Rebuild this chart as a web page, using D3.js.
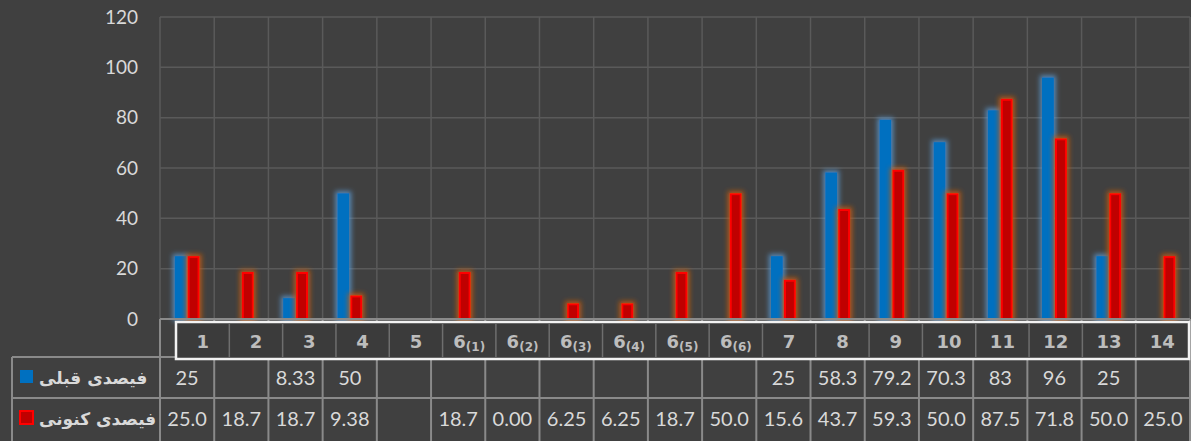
<!DOCTYPE html>
<html>
<head>
<meta charset="utf-8">
<script src="https://cdn.jsdelivr.net/npm/d3@7"></script>
<style>
  html, body { margin: 0; padding: 0; background: #404040; }
  svg { display: block; }
</style>
</head>
<body>
<div id="chart"></div>
<script>
var W = 1191, H = 441;

// categories, as labelled under the bars
var categories = ["1","2","3","4","5","6(1)","6(2)","6(3)","6(4)","6(5)","6(6)","7","8","9","10","11","12","13","14"];
var seriesNames = ["فیصدی قبلی", "فیصدی کنونی"];
// table texts as shown (empty = no value)
var beforeText = ["25","","8.33","50","","","","","","","","25","58.3","79.2","70.3","83","96","25",""];
var nowText = ["25.0","18.7","18.7","9.38","","18.7","0.00","6.25","6.25","18.7","50.0","15.6","43.7","59.3","50.0","87.5","71.8","50.0","25.0"];
var yTicks = [0, 20, 40, 60, 80, 100, 120];

var svg = d3.select("#chart").append("svg")
    .attr("width", W)
    .attr("height", H);

var defs = svg.append("defs");
function glow(id, color, op) {
  var f = defs.append("filter").attr("id", id)
      .attr("x", "-80%").attr("y", "-20%").attr("width", "260%").attr("height", "140%");
  f.append("feMorphology").attr("in", "SourceAlpha").attr("operator", "dilate").attr("radius", 2).attr("result", "d");
  f.append("feGaussianBlur").attr("in", "d").attr("stdDeviation", 2.5).attr("result", "b");
  f.append("feFlood").attr("flood-color", color).attr("flood-opacity", op);
  f.append("feComposite").attr("in2", "b").attr("operator", "in").attr("result", "g");
  var m = f.append("feMerge");
  m.append("feMergeNode").attr("in", "g");
  m.append("feMergeNode").attr("in", "SourceGraphic");
}
glow("glowBlue", "#5b9bd5", 0.8);
glow("glowRed", "#c55a11", 0.85);

var x = d3.scaleBand().domain(categories).range([160, 1190]);
var y = d3.scaleLinear().domain([0, 120]).range([319, 17]);
var xs = d3.scaleBand().domain([0, 1]).range([x.bandwidth() * 0.27, x.bandwidth() * 0.73]).paddingInner(0.08);

var grid = "#5a5a5a", tline = "#8a8a8a", txt = "#d9d9d9";
var xEdge = function(d, i) { return i < categories.length ? x(d) : 1190; };

// horizontal gridlines
svg.append("g").selectAll("line").data(yTicks.slice(1)).enter().append("line")
    .attr("x1", 160).attr("x2", 1190)
    .attr("y1", function(d) { return y(d); }).attr("y2", function(d) { return y(d); })
    .attr("stroke", grid).attr("stroke-width", 1.5);

// vertical gridlines
svg.append("g").selectAll("line").data(categories.concat(["end"])).enter().append("line")
    .attr("x1", xEdge).attr("x2", xEdge)
    .attr("y1", 17).attr("y2", 319)
    .attr("stroke", grid).attr("stroke-width", 1.5);

// y axis labels
var yAxis = d3.axisLeft(y).tickValues(yTicks).tickSize(0).tickPadding(0);
var ya = svg.append("g").attr("transform", "translate(138,0)").call(yAxis);
ya.select(".domain").remove();
ya.selectAll("text").attr("fill", txt).style("font-family", "Lato, 'Open Sans', sans-serif").style("font-size", "19px");

// bars
function toBars(texts) {
  return texts.map(function(s, i) { return { cat: categories[i], v: s === "" ? 0 : +s }; })
    .filter(function(d) { return d.v > 0; });
}

svg.append("g").attr("filter", "url(#glowBlue)")
  .selectAll("rect").data(toBars(beforeText)).enter().append("rect")
    .attr("x", function(d) { return x(d.cat) + xs(0); })
    .attr("width", xs.bandwidth())
    .attr("y", function(d) { return y(d.v); })
    .attr("height", function(d) { return y(0) - y(d.v); })
    .attr("fill", "#0070c0");

svg.append("g").attr("filter", "url(#glowRed)")
  .selectAll("rect").data(toBars(nowText)).enter().append("rect")
    .attr("x", function(d) { return x(d.cat) + xs(1) + 1; })
    .attr("width", xs.bandwidth() - 2)
    .attr("y", function(d) { return y(d.v) + 1; })
    .attr("height", function(d) { return y(0) - y(d.v) - 1; })
    .attr("fill", "#c00000").attr("stroke", "#ff0000").attr("stroke-width", 2);

// table lines
var t = svg.append("g").attr("stroke", tline).attr("stroke-width", 2);
t.append("line").attr("x1", 160).attr("x2", 1190).attr("y1", 319).attr("y2", 319);
t.append("line").attr("x1", 12).attr("x2", 1190).attr("y1", 357).attr("y2", 357);
t.append("line").attr("x1", 12).attr("x2", 1190).attr("y1", 398).attr("y2", 398);
t.append("line").attr("x1", 12).attr("x2", 12).attr("y1", 357).attr("y2", 441);
t.selectAll("line.v").data(categories.concat(["end"])).enter().append("line")
    .attr("x1", xEdge).attr("x2", xEdge)
    .attr("y1", 319).attr("y2", 441);

// header label strip
var hx = d3.scaleBand().domain(categories).range([176, 1189]);
var hdr = svg.append("g");
hdr.append("rect").attr("x", 176).attr("y", 322).attr("width", 1013).attr("height", 37)
    .attr("fill", "#3b3b3b").attr("stroke", "#f2f2f2").attr("stroke-width", 2.5);
hdr.selectAll("line").data(categories.slice(1)).enter().append("line")
    .attr("x1", function(d) { return hx(d); }).attr("x2", function(d) { return hx(d); })
    .attr("y1", 324).attr("y2", 357)
    .attr("stroke", "#6e6e6e").attr("stroke-width", 1.5);
var ht = hdr.selectAll("text").data(categories).enter().append("text")
    .attr("x", function(d) { return hx(d) + hx.bandwidth() / 2; })
    .attr("y", 348)
    .attr("text-anchor", "middle")
    .attr("fill", "#bdbdbd")
    .style("font-family", "'DejaVu Sans', sans-serif")
    .style("font-size", "18px")
    .style("font-weight", "bold");
ht.each(function(d) {
  var m = d.match(/^(\d+)(\(\d\))?$/);
  var el = d3.select(this);
  el.append("tspan").text(m[1]);
  if (m[2]) el.append("tspan").attr("dy", 3).style("font-size", "12px").text(m[2]);
});

// legend keys + series names + table values
var rows = [
  { name: seriesNames[0], texts: beforeText, yc: 378, fill: "#0070c0", stroke: "none" },
  { name: seriesNames[1], texts: nowText, yc: 419, fill: "#c00000", stroke: "#ff0000" }
];
rows.forEach(function(r) {
  svg.append("rect").attr("x", 20).attr("y", r.yc - 8).attr("width", 13).attr("height", 13)
      .attr("fill", r.fill).attr("stroke", r.stroke).attr("stroke-width", 2);
  svg.append("text").attr("x", 39).attr("y", r.yc + 6)
      .attr("fill", txt)
      .attr("direction", "rtl")
      .attr("text-anchor", "end")
      .style("font-family", "'DejaVu Sans', sans-serif")
      .style("font-size", "17px").style("font-weight", "bold")
      .text(r.name);
  svg.append("g").selectAll("text").data(r.texts).enter().append("text")
      .attr("x", function(d, i) { return x(categories[i]) + x.bandwidth() / 2; })
      .attr("y", r.yc + 7)
      .attr("text-anchor", "middle")
      .attr("fill", txt)
      .style("font-family", "Lato, 'Open Sans', sans-serif")
      .style("font-size", "20px")
      .text(function(d) { return d; });
});
</script>
</body>
</html>
